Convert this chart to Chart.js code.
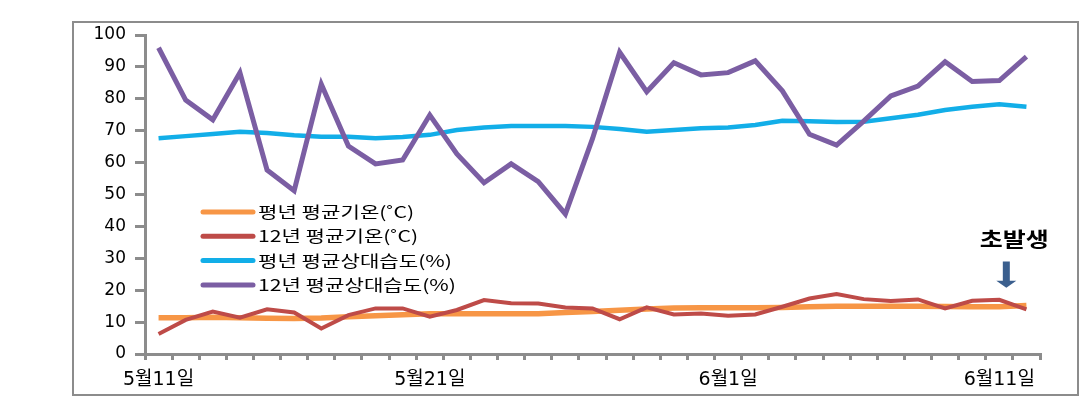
<!DOCTYPE html>
<html>
<head>
<meta charset="utf-8">
<script src="https://cdn.jsdelivr.net/npm/chart.js@4"></script>
<style>
  body { margin: 0; background: #fff; }
  #wrap { position: relative; width: 1087px; height: 404px; }
  #frame { position: absolute; left: 72px; top: 21px; width: 1003px; height: 371px; border: 2px solid #8c8c8c; pointer-events: none; }
  canvas { position: absolute; left: 0; top: 0; }
</style>
</head>
<body>
<div id="wrap">
  <canvas id="myChart" width="1087" height="404"></canvas>
  <div id="frame"></div>
</div>
<script>
// dates 5/11 - 6/12
const days = [
  "5월11일", "5월12일", "5월13일", "5월14일", "5월15일", "5월16일", "5월17일", "5월18일", "5월19일", "5월20일",
  "5월21일", "5월22일", "5월23일", "5월24일", "5월25일", "5월26일", "5월27일", "5월28일", "5월29일", "5월30일",
  "5월31일", "6월1일", "6월2일", "6월3일", "6월4일", "6월5일", "6월6일", "6월7일", "6월8일", "6월9일",
  "6월10일", "6월11일", "6월12일"
];
const shownDays = ["5월11일", "5월21일", "6월1일", "6월11일"];

const tempNormal = [11.4, 11.4, 11.5, 11.4, 11.2, 11.1, 11.3, 11.7, 12.0, 12.3, 12.6, 12.6, 12.6, 12.6, 12.6, 13.0, 13.3,
  13.7, 14.1, 14.4, 14.5, 14.5, 14.5, 14.6, 14.8, 15.0, 15.0, 15.0, 15.0, 14.9, 14.8, 14.8, 15.2];
const temp2012 = [6.3, 10.7, 13.3, 11.4, 14.0, 13.0, 8.0, 12.2, 14.3, 14.3, 11.7, 13.8, 16.9, 15.9, 15.8, 14.6, 14.3,
  10.9, 14.6, 12.4, 12.7, 12.0, 12.4, 14.8, 17.4, 18.8, 17.2, 16.6, 17.1, 14.3, 16.7, 17.0, 14.0];
const humidNormal = [67.6, 68.3, 69.0, 69.7, 69.3, 68.6, 68.1, 68.1, 67.6, 68.0, 68.7, 70.2, 71.0, 71.5, 71.5, 71.5, 71.2,
  70.5, 69.7, 70.2, 70.8, 71.0, 71.8, 73.1, 73.0, 72.7, 72.8, 73.9, 75.0, 76.5, 77.5, 78.3, 77.5];
const humid2012 = [96.0, 79.6, 73.4, 88.2, 57.7, 51.2, 84.6, 65.2, 59.6, 60.8, 74.9, 62.7, 53.7, 59.6, 54.0, 43.9, 67.5,
  94.6, 82.2, 91.3, 87.5, 88.2, 91.9, 82.5, 68.9, 65.5, 73.0, 80.9, 84.0, 91.6, 85.4, 85.7, 93.2];

const seriesNames = ["평년 평균기온(˚C)", "12년 평균기온(˚C)", "평년 평균상대습도(%)", "12년 평균상대습도(%)"];
const seriesColors = ["#f79646", "#be4b48", "#12aee8", "#7b5ea3"];

const noteText = "초발생";
const noteDay = "6월11일";

const baseFont = '"DejaVu Sans", "Noto Sans CJK KR", sans-serif';
const korFont = '"Noto Sans CJK KR", sans-serif';

// legend sits inside the plot, text stretched wide like the original
const innerLegend = {
  id: "innerLegend",
  afterDatasetsDraw(chart) {
    const ctx = chart.ctx;
    const x0 = 203, y0 = 212, gap = 24.3, sx = 1.32;
    ctx.save();
    ctx.font = "16px " + korFont;
    ctx.textBaseline = "middle";
    chart.data.datasets.forEach((ds, i) => {
      const y = y0 + i * gap;
      ctx.strokeStyle = ds.borderColor;
      ctx.lineWidth = 5;
      ctx.lineCap = "round";
      ctx.beginPath();
      ctx.moveTo(x0, y);
      ctx.lineTo(x0 + 50, y);
      ctx.stroke();
      ctx.save();
      ctx.translate(x0 + 55, y);
      ctx.scale(sx, 1);
      ctx.fillStyle = "#000";
      ctx.fillText(ds.label, 0, 0);
      ctx.restore();
    });
    ctx.restore();
  }
};

const arrowNote = {
  id: "arrowNote",
  afterDatasetsDraw(chart) {
    const ctx = chart.ctx;
    const xs = chart.scales.x, ys = chart.scales.y;
    const cx = xs.getPixelForValue(days.indexOf(noteDay)) + 7;
    ctx.save();
    ctx.save();
    ctx.translate(cx + 8, ys.getPixelForValue(36));
    ctx.scale(1.25, 1);
    ctx.font = "bold 20px " + korFont;
    ctx.fillStyle = "#000";
    ctx.textAlign = "center";
    ctx.textBaseline = "middle";
    ctx.fillText(noteText, 0, 0);
    ctx.restore();
    const top = ys.getPixelForValue(29), mid = ys.getPixelForValue(23), tip = ys.getPixelForValue(20.8);
    ctx.fillStyle = "#3b5f8e";
    ctx.beginPath();
    ctx.moveTo(cx - 3.5, top);
    ctx.lineTo(cx + 3.5, top);
    ctx.lineTo(cx + 3.5, mid);
    ctx.lineTo(cx + 10, mid);
    ctx.lineTo(cx, tip);
    ctx.lineTo(cx - 10, mid);
    ctx.lineTo(cx - 3.5, mid);
    ctx.closePath();
    ctx.fill();
    ctx.restore();
  }
};

const seriesData = [tempNormal, temp2012, humidNormal, humid2012];
const widths = [5.5, 4, 4.5, 5];

new Chart(document.getElementById("myChart").getContext("2d"), {
  type: "line",
  data: {
    labels: days,
    datasets: seriesData.map((d, i) => ({
      label: seriesNames[i],
      data: d,
      borderColor: seriesColors[i],
      backgroundColor: seriesColors[i],
      borderWidth: widths[i],
      pointRadius: 0,
      tension: 0,
      order: 4 - i,
    })),
  },
  options: {
    responsive: false,
    animation: false,
    layout: { padding: { left: 80, top: 35, right: 47, bottom: 8 } },
    plugins: {
      legend: { display: false },
      tooltip: { enabled: false },
    },
    scales: {
      x: {
        offset: true,
        afterFit: (s) => { s.height = 42; },
        border: { color: "#8c8c8c", width: 3 },
        grid: { offset: true, drawOnChartArea: false, drawTicks: true, tickLength: 6, color: "#8c8c8c", lineWidth: 3 },
        ticks: {
          autoSkip: false,
          maxRotation: 0,
          padding: 9,
          color: "#000",
          font: { size: 19, family: baseFont },
          callback: function (v) {
            const lab = this.getLabelForValue(v);
            return shownDays.includes(lab) ? lab : "";
          },
        },
      },
      y: {
        min: 0,
        max: 100,
        afterFit: (s) => { s.width = 65; },
        border: { color: "#8c8c8c", width: 3 },
        grid: { drawOnChartArea: false, drawTicks: true, tickLength: 10, color: "#8c8c8c", lineWidth: 3 },
        ticks: {
          stepSize: 10,
          padding: 9,
          color: "#000",
          font: { size: 17, family: baseFont },
        },
      },
    },
  },
  plugins: [innerLegend, arrowNote],
});
</script>
</body>
</html>
